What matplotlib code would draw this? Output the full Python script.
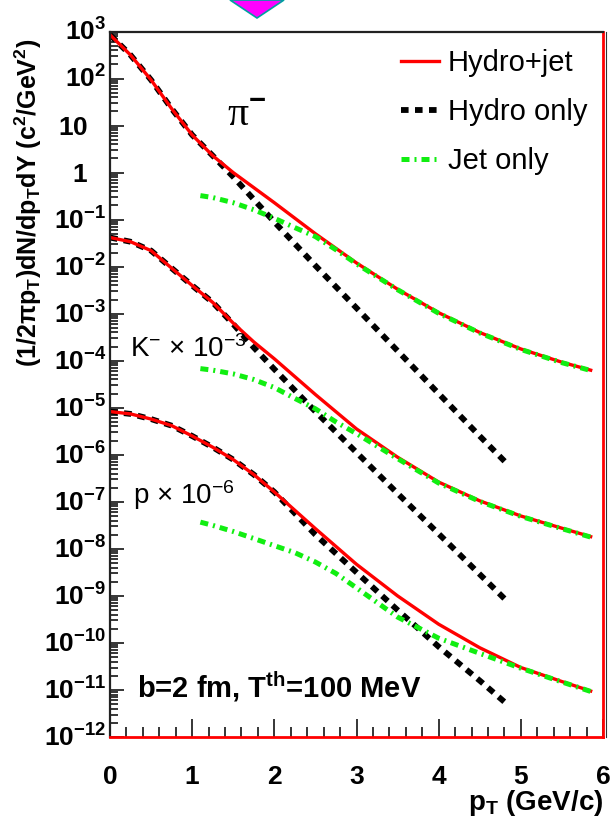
import matplotlib
matplotlib.use("Agg")
import matplotlib.pyplot as plt
from matplotlib.patches import Polygon
from matplotlib.ticker import FixedLocator, MultipleLocator, NullFormatter
from matplotlib.transforms import ScaledTranslation

plt.rcParams['font.family'] = ['Liberation Sans', 'DejaVu Sans']
plt.rcParams['mathtext.fontset'] = 'custom'
plt.rcParams['mathtext.rm'] = 'Liberation Sans'
plt.rcParams['mathtext.it'] = 'Liberation Sans:italic'
plt.rcParams['mathtext.bf'] = 'Liberation Sans:bold'

# pT grids (GeV/c)
pt_full = [0, 0.25, 0.5, 0.75, 1.0, 1.25, 1.5, 1.75, 2.0, 2.5, 3.0, 3.5, 4.0, 4.5, 5.0, 5.5, 5.85]
pt_jet = [1.1, 1.25, 1.5, 1.75, 2.0, 2.25, 2.5, 2.75, 3.0, 3.5, 4.0, 4.5, 5.0, 5.5, 5.85]
pt_hydro = [0, 0.25, 0.5, 0.75, 1.0, 1.25, 1.5, 1.75, 2.0, 2.5, 3.0, 3.5, 4.0, 4.5, 4.85]

# pi-
pion_hj = [851, 316, 93.3, 22.9, 6.31, 2.29, 1.0, 0.479, 0.229, 0.0501, 0.0120,
           3.31e-3, 1.05e-3, 3.98e-4, 1.78e-4, 9.3e-5, 6.3e-5]
pion_hydro = [851, 316, 93.3, 22.9, 6.31, 2.29, 0.813, 0.269, 0.0891, 0.0105, 1.32e-3,
              1.62e-4, 2.0e-5, 2.5e-6, 6.0e-7]
pion_jet = [0.324, 0.295, 0.229, 0.162, 0.107, 0.0676, 0.0437, 0.0229, 0.0115, 3.24e-3,
            1.02e-3, 3.9e-4, 1.74e-4, 9.1e-5, 6.2e-5]

# K- (x 1e-3)
kaon_hj = [4.17e-2, 3.39e-2, 2.19e-2, 9.3e-3, 3.98e-3, 1.74e-3, 6.3e-4, 2.51e-4, 1.10e-4,
           1.91e-5, 3.55e-6, 8.9e-7, 2.63e-7, 1.05e-7, 5.0e-8, 2.75e-8, 1.82e-8]
kaon_hydro = [4.17e-2, 3.39e-2, 2.19e-2, 9.3e-3, 3.98e-3, 1.74e-3, 6.0e-4, 1.91e-4, 6.6e-5,
              8.3e-6, 1.12e-6, 1.51e-7, 2.09e-8, 2.88e-9, 7.2e-10]
kaon_jet = [6.8e-5, 6.3e-5, 5.25e-5, 3.98e-5, 2.69e-5, 1.58e-5, 9.5e-6, 5.0e-6, 2.82e-6,
            8.3e-7, 2.51e-7, 1.02e-7, 4.9e-8, 2.69e-8, 1.78e-8]

# p (x 1e-6)
prot_hj = [8.3e-6, 7.4e-6, 5.75e-6, 4.17e-6, 2.51e-6, 1.45e-6, 7.9e-7, 3.8e-7, 1.62e-7,
           2.69e-8, 4.7e-9, 1.0e-9, 2.5e-10, 7.9e-11, 3.0e-11, 1.51e-11, 9.5e-12]
prot_hydro = [8.3e-6, 7.4e-6, 5.75e-6, 4.17e-6, 2.51e-6, 1.45e-6, 7.9e-7, 3.8e-7, 1.62e-7,
              2.0e-8, 3.16e-9, 5.0e-10, 8.3e-11, 1.58e-11, 4.7e-12]
prot_jet = [3.7e-8, 3.16e-8, 2.34e-8, 1.66e-8, 1.17e-8, 8.3e-9, 5.25e-9, 3.0e-9, 1.48e-9,
            3.55e-10, 1.26e-10, 6.0e-11, 2.9e-11, 1.48e-11, 9.3e-12]

ytick_powers = list(range(3, -13, -1))
xtick_labels = ['0', '1', '2', '3', '4', '5', '6']

red = '#ff0000'
green = '#11ee11'
dash_black = (0, (1.3, 1.1))
dash_green = (0, (1.6, 1.0, 0.4, 1.0))

fig = plt.figure(figsize=(6.13, 8.23), dpi=100)
ax = fig.add_axes([110/613, 86/823, 493/613, 705.5/823])

for hydro, hj, jet in [(pion_hydro, pion_hj, pion_jet),
                       (kaon_hydro, kaon_hj, kaon_jet),
                       (prot_hydro, prot_hj, prot_jet)]:
    lb, = ax.plot(pt_hydro[:len(hydro)], hydro, color='black', lw=4.2, linestyle=dash_black)
    lr, = ax.plot(pt_full, hj, color=red, lw=2.4)
    lg, = ax.plot(pt_jet, jet, color=green, lw=3.6, linestyle=dash_green)
    if hydro is pion_hydro:
        handles = [lr, lb, lg]

ax.set_yscale('log')
ax.set_xlim(0, 6)
ax.set_ylim(1e-12, 1e3)

ax.xaxis.set_major_locator(FixedLocator(range(7)))
ax.xaxis.set_minor_locator(MultipleLocator(0.2))
ax.set_xticklabels(xtick_labels, fontsize=19, fontweight='bold')
ax.tick_params(axis='x', which='major', direction='in', length=13, width=1.1, pad=20)
ax.tick_params(axis='x', which='minor', direction='in', length=7, width=1.1)
ax.yaxis.set_major_locator(FixedLocator([10.0**p for p in ytick_powers]))
ax.yaxis.set_minor_locator(FixedLocator([m * 10.0**p for p in range(-12, 3) for m in range(2, 10)]))
ax.yaxis.set_major_formatter(NullFormatter())
ax.yaxis.set_minor_formatter(NullFormatter())
ax.tick_params(axis='y', which='major', direction='in', length=10, width=1.1)
ax.tick_params(axis='y', which='minor', direction='in', length=6, width=1.1)

ytr = ax.get_yaxis_transform()
for p in ytick_powers:
    if p in (0, 1):
        lab = r'$\mathbf{%d}$' % (10 ** p)
        dx = -22 / 100
    else:
        lab = r'$\mathbf{10^{%d}}$' % p
        dx = -4 / 100
    ax.text(0, 10.0**p, lab, fontsize=19, ha='right', va='baseline',
            transform=ytr + ScaledTranslation(dx, -0.095, fig.dpi_scale_trans))

for s in ['left', 'top']:
    ax.spines[s].set_color('#222222')
    ax.spines[s].set_linewidth(1.6)
for s in ['right', 'bottom']:
    ax.spines[s].set_color(red)
    ax.spines[s].set_linewidth(2)
# thin dark edge just outside the red right frame line
ax.plot([1, 1], [0, 1], color='#333333', lw=0.8, clip_on=False,
        transform=ax.transAxes + ScaledTranslation(0.025, 0, fig.dpi_scale_trans))

ax.text(1.42, 10**1.2, 'π$^{\\mathbf{-}}$', family='Liberation Serif', fontsize=30,
        ha='left', va='center')
ax.text(0.24, 10**-3.76, r'K$^{-}$ $\times$ 10$^{-3}$', fontsize=20, ha='left', va='center')
ax.text(0.28, 10**-6.86, r'p $\times$ 10$^{-6}$', fontsize=20, ha='left', va='center')
ax.text(0.33, 10**-10.93, r'b=2 fm, T$^{\mathbf{th}}$=100 MeV', fontsize=21,
        fontweight='bold', ha='left', va='center')

ax.legend(handles, ['Hydro+jet', 'Hydro only', 'Jet only'], loc='upper left',
          bbox_to_anchor=(0.59, 0.975), frameon=False, fontsize=21, handlelength=1.3,
          handletextpad=0.3, labelspacing=0.72, borderpad=0, borderaxespad=0)

fig.text(603/613, 1 - 803/823, r'$\mathbf{p_T}$ (GeV/c)', fontsize=20,
         fontweight='bold', ha='right', va='center')
fig.text(28/613, 1 - 203/823, r'$\mathbf{(1/2\pi p_T)dN/dp_TdY\ (c^2/GeV^2)}$',
         fontsize=18, rotation=90, ha='center', va='center')

tri = Polygon([(230/613, 1.0), (284/613, 1.0), (257/613, 1 - 18/823)], closed=True,
              transform=fig.transFigure, facecolor='#ff00ff', edgecolor='#00a0a0', lw=1.2)
fig.patches.append(tri)

fig.savefig('out.png', dpi=100)
